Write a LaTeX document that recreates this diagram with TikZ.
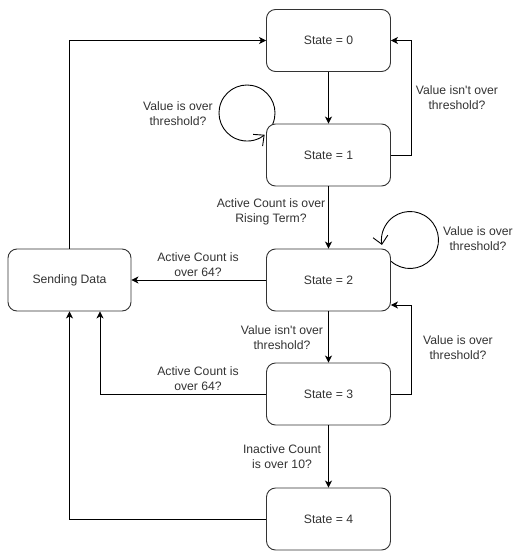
\documentclass[tikz,border=0pt]{standalone}
\usepackage{fontspec}
\setmainfont{Liberation Sans}
\usetikzlibrary{arrows.meta}
\definecolor{ink}{HTML}{333333}
\tikzset{
  x=1pt, y=1pt,
  statebox/.style={draw=ink, line width=0.9pt, fill=white, rounded corners=9pt,
    minimum width=124pt, minimum height=62pt, inner sep=0pt,
    text=ink, font=\fontsize{12.2}{15}\selectfont},
  edge/.style={draw=black, line width=0.9pt,
    -{Stealth[length=7pt, width=7pt, inset=2pt]}},
  loopedge/.style={draw=black, line width=0.9pt,
    -{Straight Barb[length=8pt, width=15pt, line width=0.9pt]}},
  cond/.style={align=center, inner sep=0pt, text=ink,
    font=\fontsize{12.2}{15}\selectfont},
}
\begin{document}
\begin{tikzpicture}
\useasboundingbox (0,0) rectangle (513,-551);

% self loops drawn first, the boxes cover their feet
\draw[loopedge] (247,-113) ++(-23:28) arc[start angle=-23, end angle=309, radius=28];
\draw[loopedge] (410,-240) ++(228:28.5) arc[start angle=228, end angle=550, radius=28.5];

% states
\node[statebox] (s0) at (328.5,-40.5) {State = 0};
\node[statebox] (s1) at (328.5,-155) {State = 1};
\node[statebox] (s2) at (328.5,-280) {State = 2};
\node[statebox] (s3) at (328.5,-394) {State = 3};
\node[statebox] (s4) at (328.5,-519) {State = 4};
\node[statebox, minimum width=123pt] (send) at (69.5,-280) {Sending Data};

% transitions
\draw[edge] (send.north) |- (s0.west);
\draw[edge] (s0) -- (s1);
\draw[edge] (s1.east) -- ++(20,0) |- (s0.east);
\draw[edge] (s1) -- (s2);
\draw[edge] (s2) -- (send);
\draw[edge] (s2) -- (s3);
\draw[edge] (s3.east) -- ++(20,0) |- ([yshift=-25pt]s2.east);
\draw[edge] (s3.west) -| ([xshift=30.5pt]send.south);
\draw[edge] (s3) -- (s4);
\draw[edge] (s4.west) -| (send.south);

% conditions
\node[cond] (c10) at (457,-98) {Value isn\textquotesingle t over\\threshold?};
\node[cond] (c11) at (178,-114) {Value is over\\threshold?};
\node[cond] (c12) at (271,-212) {Active Count is over\\Rising Term?};
\node[cond] (c22) at (478,-239) {Value is over\\threshold?};
\node[cond] (c2s) at (198,-265) {Active Count is\\over 64?};
\node[cond] (c23) at (282,-337.5) {Value isn\textquotesingle t over\\threshold?};
\node[cond] (c32) at (458,-348) {Value is over\\threshold?};
\node[cond] (c3s) at (198,-379) {Active Count is\\over 64?};
\node[cond] (c34) at (282,-457) {Inactive Count\\is over 10?};
\end{tikzpicture}
\end{document}
